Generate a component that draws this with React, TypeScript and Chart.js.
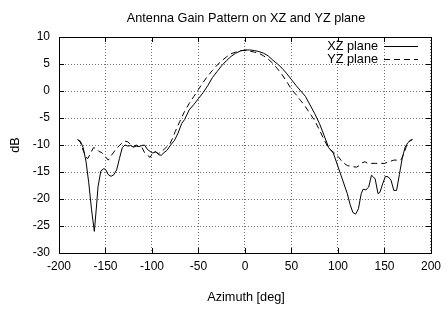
import React, { useEffect, useRef } from "react";
import { Chart, registerables } from "chart.js";

Chart.register(...registerables);

const chartTitle = "Antenna Gain Pattern on XZ and YZ plane";
const xAxisTitle = "Azimuth [deg]";
const yAxisTitle = "dB";
const seriesNames = ["XZ plane", "YZ plane"];

const xzAngles = [
  -180, -177, -174, -171, -168, -165, -162, -160, -158, -155, -152, -150, -147, -144, -141, -138, -135, -132, -129,
  -126, -123, -120, -117, -114, -111, -108, -105, -102, -99, -96, -93, -90, -87, -84, -80, -76, -72, -68, -65, -60,
  -55, -50, -45, -40, -35, -30, -25, -20, -15, -10, -5, 0, 5, 10, 15, 20, 25, 30, 35, 40, 45, 50, 55, 60, 65, 70, 75,
  80, 85, 90, 95, 100, 105, 110, 113, 116, 119, 122, 125, 127, 130, 133, 136, 138, 140, 143, 145, 148, 151, 154, 157,
  160, 163, 166, 169, 172, 175, 178, 180,
];
const xzGain = [
  -9, -9.3, -10.5, -13, -17, -22, -26, -22, -17.7, -14.8, -14.4, -14.5, -15.5, -15.8, -15.5, -14.6, -12.5, -10.5, -10,
  -10.2, -10.1, -10.4, -10.2, -10.3, -10.1, -10, -10.8, -11.2, -11.5, -11.2, -11.8, -11.9, -11.4, -11.0, -10.0, -9.2,
  -7.8, -6.0, -5.3, -3.5, -2.5, -1.4, -0.3, 1.0, 2.5, 3.6, 4.7, 5.6, 6.4, 7.0, 7.4, 7.6, 7.6, 7.5, 7.3, 7.0, 6.5, 5.7,
  5.0, 4.2, 3.2, 2.1, 1.0, 0.0, -1.0, -2.6, -4.2, -6.0, -8.2, -10.5, -11.5, -14.0, -16.5, -19, -21, -22.5, -22.8,
  -21.8, -19, -18.2, -18.3, -17.8, -15.6, -15.9, -16.3, -19.0, -18.8, -17.2, -15.8, -15.9, -16.5, -18.4, -18.4, -15.5,
  -12.5, -10.5, -9.6, -9.1, -9,
];

const yzAngles = [
  -180, -177, -174, -171, -169, -166, -163, -160, -157, -154, -150, -147, -144, -141, -138, -135, -132, -129, -126,
  -123, -120, -117, -114, -111, -108, -105, -102, -99, -96, -93, -90, -87, -84, -81, -78, -75, -70, -65, -60, -55, -50,
  -45, -40, -35, -30, -25, -20, -15, -10, -5, 0, 5, 10, 15, 20, 25, 30, 35, 40, 45, 50, 55, 60, 65, 70, 75, 80, 85, 90,
  95, 100, 105, 110, 115, 120, 123, 126, 129, 132, 135, 140, 145, 150, 155, 160, 165, 168, 171, 174, 177, 180,
];
const yzGain = [
  -9, -9.5, -11, -12.3, -12.5, -11.5, -10.5, -10.6, -11.2, -11.4, -12.2, -12.8, -12.0, -11.3, -10.6, -10.1, -9.6, -9.3,
  -9.4, -9.9, -10.3, -10.0, -10.3, -10.4, -11.4, -11.9, -12.3, -11.4, -11.3, -11.6, -11.3, -10.8, -10.3, -9.9, -8.8,
  -7.5, -5.6, -3.8, -2.3, -1.0, 0.3, 1.6, 2.8, 3.8, 4.8, 5.6, 6.3, 6.9, 7.2, 7.5, 7.5, 7.4, 7.2, 7.0, 6.5, 5.9, 5.1,
  4.1, 3.0, 1.7, 0.3, -0.7, -1.8, -2.9, -4.2, -5.5, -7.2, -9.0, -10.6, -11.3, -12.1, -13.2, -13.8, -14.0, -14.1, -13.8,
  -13.3, -13.1, -13.4, -13.4, -13.4, -13.4, -13.4, -13.1, -12.8, -12.8, -12.7, -11.5, -10.0, -9.3, -9,
];

const xTicks = [-200, -150, -100, -50, 0, 50, 100, 150, 200];
const yTicks = [10, 5, 0, -5, -10, -15, -20, -25, -30];

const FONT = "'Liberation Sans', Arial, Helvetica, sans-serif";
const DASH = [6, 4];

const framePlugin = {
  id: "frame",
  afterDraw(chart: any) {
    const { ctx, chartArea } = chart;
    const { left, right, top, bottom } = chartArea;
    const xs = chart.scales.x;
    const ys = chart.scales.y;
    ctx.save();
    ctx.strokeStyle = "#000";
    ctx.lineWidth = 1;
    ctx.setLineDash([]);
    ctx.strokeRect(Math.round(left) + 0.5, Math.round(top) + 0.5, Math.round(right - left), Math.round(bottom - top));
    // inward tick marks (mirrored)
    ctx.beginPath();
    const tl = 5;
    xTicks.forEach((v) => {
      const px = Math.round(xs.getPixelForValue(v)) + 0.5;
      ctx.moveTo(px, bottom);
      ctx.lineTo(px, bottom - tl);
      ctx.moveTo(px, top);
      ctx.lineTo(px, top + tl);
    });
    yTicks.forEach((v) => {
      const py = Math.round(ys.getPixelForValue(v)) + 0.5;
      ctx.moveTo(left, py);
      ctx.lineTo(left + tl, py);
      ctx.moveTo(right, py);
      ctx.lineTo(right - tl, py);
    });
    ctx.stroke();

    ctx.fillStyle = "#000";
    ctx.font = `12.7px ${FONT}`;
    ctx.textAlign = "center";
    ctx.textBaseline = "middle";
    ctx.fillText(chartTitle, 246, 18);
    ctx.fillText(xAxisTitle, 246, 297);
    ctx.save();
    ctx.translate(15, (top + bottom) / 2);
    ctx.rotate(-Math.PI / 2);
    ctx.fillText(yAxisTitle, 0, 0);
    ctx.restore();

    // legend
    const legendY = [46, 59];
    const dashes = [[], DASH];
    ctx.textAlign = "right";
    seriesNames.forEach((name, i) => {
      ctx.fillStyle = "#000";
      ctx.fillText(name, 378, legendY[i]);
      ctx.beginPath();
      ctx.setLineDash(dashes[i]);
      ctx.moveTo(384, legendY[i] + 0.5);
      ctx.lineTo(418, legendY[i] + 0.5);
      ctx.stroke();
    });
    ctx.restore();
  },
};

export default function App() {
  const ref = useRef<HTMLCanvasElement | null>(null);
  useEffect(() => {
    document.body.style.margin = "0";
    const canvas = ref.current;
    if (!canvas) return;
    const chart = new Chart(canvas, {
      type: "line",
      data: {
        datasets: [
          {
            label: seriesNames[0],
            data: xzAngles.map((a, i) => ({ x: a, y: xzGain[i] })),
            borderColor: "#000",
            borderWidth: 1,
            pointRadius: 0,
            tension: 0,
            fill: false,
          },
          {
            label: seriesNames[1],
            data: yzAngles.map((a, i) => ({ x: a, y: yzGain[i] })),
            borderColor: "#000",
            borderWidth: 1,
            borderDash: DASH,
            pointRadius: 0,
            tension: 0,
            fill: false,
          },
        ],
      },
      options: {
        animation: false,
        responsive: false,
        devicePixelRatio: 1,
        layout: { padding: { left: 0, right: 14, top: 37, bottom: 0 } },
        plugins: { legend: { display: false }, title: { display: false }, tooltip: { enabled: false } },
        scales: {
          x: {
            type: "linear",
            min: -200,
            max: 200,
            afterFit: (s: any) => {
              s.height = 65;
            },
            afterBuildTicks: (s: any) => {
              s.ticks = xTicks.map((v) => ({ value: v }));
            },
            ticks: { color: "#000", font: { size: 12, family: FONT }, padding: 6, maxRotation: 0, autoSkip: false },
            grid: { color: "rgba(0,0,0,0.55)", drawTicks: false, lineWidth: 1 },
            border: { display: false, dash: [1, 2] },
          },
          y: {
            type: "linear",
            min: -30,
            max: 10,
            afterFit: (s: any) => {
              s.width = 59;
            },
            afterBuildTicks: (s: any) => {
              s.ticks = yTicks.map((v) => ({ value: v }));
            },
            ticks: { color: "#000", font: { size: 12, family: FONT }, padding: 9, autoSkip: false },
            grid: { color: "rgba(0,0,0,0.55)", drawTicks: false, lineWidth: 1 },
            border: { display: false, dash: [1, 2] },
          },
        },
      },
      plugins: [framePlugin],
    });
    return () => chart.destroy();
  }, []);
  return <canvas ref={ref} width={447} height={318} style={{ display: "block" }} />;
}
